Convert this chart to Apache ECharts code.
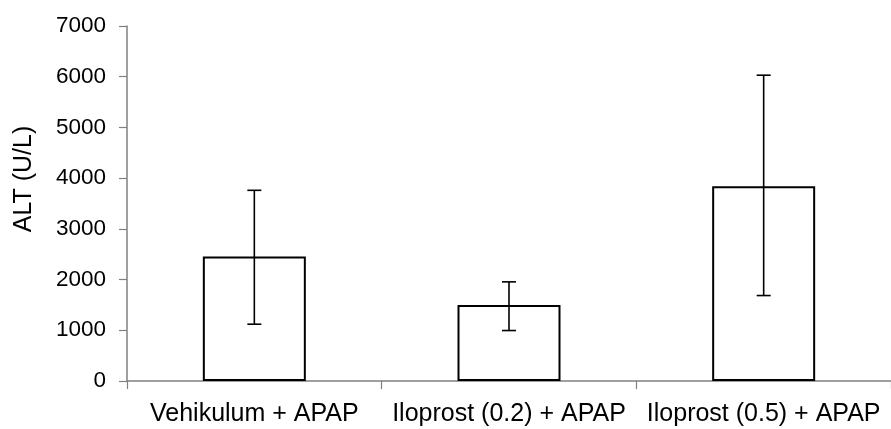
<!DOCTYPE html>
<html>
<head>
<meta charset="utf-8">
<script src="https://cdn.jsdelivr.net/npm/echarts@6/dist/echarts.min.js"></script>
<style>
  html, body { margin: 0; padding: 0; background: #fff; }
  #chart { width: 891px; height: 429px; }
</style>
</head>
<body>
<div id="chart"></div>
<script>
// Groups and mean ALT values with error-bar bounds
var categories = ['Vehikulum + APAP', 'Iloprost (0.2) + APAP', 'Iloprost (0.5) + APAP'];
var altMean = [2455, 1500, 3840];
var errUpper = [3760, 1955, 6030];
var errLower = [1120, 995, 1685];
var yTicks = [0, 1000, 2000, 3000, 4000, 5000, 6000, 7000];

var font = '"Liberation Sans", Arial, sans-serif';
var axisGray = '#808080';

var errData = categories.map(function (c, i) {
  return [i, errLower[i], errUpper[i]];
});

var chart = echarts.init(document.getElementById('chart'));
chart.setOption({
  animation: false,
  backgroundColor: '#ffffff',
  grid: { left: 127, top: 26, width: 771, bottom: 48, containLabel: false },
  xAxis: {
    type: 'category',
    data: categories,
    boundaryGap: true,
    axisLine: { lineStyle: { color: axisGray, width: 1.5 } },
    axisTick: { show: true, length: 8, lineStyle: { color: axisGray, width: 1.2 } },
    axisLabel: { color: '#000', fontFamily: font, fontSize: 25, margin: 21, interval: 0 },
    splitLine: { show: false }
  },
  yAxis: {
    type: 'value',
    min: yTicks[0],
    max: yTicks[yTicks.length - 1],
    interval: 1000,
    axisLine: { show: true, lineStyle: { color: axisGray, width: 1.5 } },
    axisTick: { show: true, length: 8, lineStyle: { color: axisGray, width: 1.2 } },
    axisLabel: {
      color: '#000', fontFamily: font, fontSize: 22.5, margin: 21,
      formatter: function (v) { return String(v); }
    },
    splitLine: { show: false }
  },
  graphic: [{
    type: 'text',
    x: 24,
    y: 179,
    rotation: Math.PI / 2,
    style: {
      text: 'ALT (U/L)',
      font: '25px ' + font,
      fill: '#000',
      align: 'center',
      verticalAlign: 'middle'
    }
  }],
  series: [
    {
      type: 'bar',
      data: altMean,
      barWidth: 103,
      itemStyle: { color: '#ffffff', borderColor: '#000', borderWidth: 2 },
      z: 2
    },
    {
      type: 'custom',
      data: errData,
      z: 3,
      renderItem: function (params, api) {
        var x = api.value(0);
        var lo = api.coord([x, api.value(1)]);
        var hi = api.coord([x, api.value(2)]);
        var cap = 7;
        var st = { stroke: '#000', lineWidth: 1.6 };
        return {
          type: 'group',
          children: [
            { type: 'line', shape: { x1: hi[0], y1: hi[1], x2: lo[0], y2: lo[1] }, style: st },
            { type: 'line', shape: { x1: hi[0] - cap, y1: hi[1], x2: hi[0] + cap, y2: hi[1] }, style: st },
            { type: 'line', shape: { x1: lo[0] - cap, y1: lo[1], x2: lo[0] + cap, y2: lo[1] }, style: st }
          ]
        };
      }
    }
  ]
});
</script>
</body>
</html>
